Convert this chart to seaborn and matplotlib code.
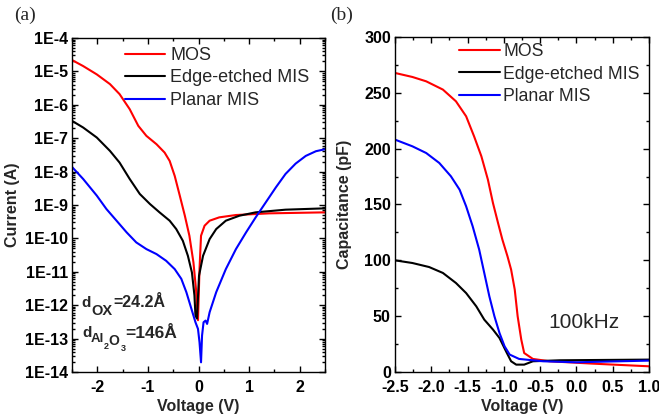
import numpy as np
import pandas as pd
import matplotlib
matplotlib.use("Agg")
import matplotlib.pyplot as plt
import matplotlib.ticker as mticker
import seaborn as sns

# ---------------- data (a) I-V, log10 of current (A) ----------------
mos_iv_v = [-2.5, -2.28, -2.01, -1.75, -1.56, -1.36, -1.19, -1.03, -0.83, -0.67, -0.57, -0.47,
            -0.37, -0.27, -0.18, -0.10, -0.05, -0.01, 0.02, 0.05, 0.12, 0.22, 0.41, 0.74, 1.4, 2.5]
mos_iv_log = [-4.66, -4.84, -5.09, -5.38, -5.68, -6.13, -6.63, -6.93, -7.18, -7.43, -7.68, -8.13,
              -8.72, -9.32, -9.92, -10.72, -11.51, -12.45, -10.92, -9.92, -9.62, -9.47, -9.37,
              -9.30, -9.25, -9.22]

edge_iv_v = [-2.5, -2.28, -2.01, -1.75, -1.56, -1.36, -1.16, -0.96, -0.77, -0.57, -0.44, -0.31,
             -0.21, -0.13, -0.08, -0.06, -0.03, 0.01, 0.09, 0.22, 0.35, 0.54, 0.81, 1.13, 1.72, 2.5]
edge_iv_log = [-6.48, -6.68, -6.98, -7.38, -7.73, -8.22, -8.67, -8.97, -9.22, -9.47, -9.72, -10.07,
               -10.52, -11.02, -11.71, -12.31, -12.4, -11.12, -10.52, -10.02, -9.72, -9.47, -9.32,
               -9.22, -9.14, -9.10]

planar_iv_v = [-2.5, -2.28, -2.01, -1.82, -1.62, -1.42, -1.23, -1.03, -0.83, -0.64, -0.47, -0.34,
               -0.24, -0.16, -0.10, -0.06, -0.01, 0.02, 0.05, 0.07, 0.10, 0.14, 0.17, 0.22, 0.35,
               0.54, 0.74, 0.94, 1.13, 1.33, 1.53, 1.72, 1.92, 2.12, 2.32, 2.5]
planar_iv_log = [-7.86, -8.22, -8.72, -9.12, -9.47, -9.82, -10.12, -10.32, -10.47, -10.67, -10.92,
                 -11.21, -11.61, -12.01, -12.31, -12.51, -12.71, -13.11, -13.71, -12.91, -12.51,
                 -12.46, -12.56, -12.21, -11.61, -10.92, -10.32, -9.82, -9.37, -8.92, -8.47,
                 -8.07, -7.76, -7.53, -7.39, -7.33]

# ---------------- data (b) C-V (pF) ----------------
mos_cv_v = [-2.5, -2.26, -2.07, -1.84, -1.66, -1.52, -1.41, -1.31, -1.22, -1.15, -1.08, -1.02,
            -0.95, -0.90, -0.85, -0.81, -0.76, -0.72, -0.60, -0.37, 0.22, 1.0]
mos_cv_c = [267.8, 264.2, 260.3, 252.9, 242.4, 229, 211, 193.2, 172.3, 151.3, 133.4, 118.5,
            103.6, 91.7, 73.8, 49.9, 29, 17, 11.7, 9.6, 7.5, 5.1]

edge_cv_v = [-2.5, -2.26, -2.03, -1.84, -1.66, -1.52, -1.38, -1.27, -1.15, -1.06, -0.97, -0.90,
             -0.83, -0.72, -0.60, -0.23, 1.0]
edge_cv_c = [100, 97.6, 94, 88.7, 79.7, 70.7, 58.8, 46.9, 38, 30.4, 18.5, 9.6, 6.6, 6.6, 9.6,
             10.5, 11.1]

planar_cv_v = [-2.5, -2.26, -2.07, -1.89, -1.73, -1.61, -1.52, -1.43, -1.34, -1.27, -1.20, -1.13,
               -1.06, -0.99, -0.92, -0.79, -0.46, 0.0, 1.0]
planar_cv_c = [208.1, 202.1, 196.1, 187.2, 175.3, 163.3, 148.4, 130.5, 109.6, 88.7, 67.8, 49.9,
               34.9, 23, 15.6, 11.7, 9.6, 8.7, 10.2]

series_names = ["MOS", "Edge-etched MIS", "Planar MIS"]
series_colors = {"MOS": "#ff0000", "Edge-etched MIS": "#000000", "Planar MIS": "#0000ff"}

# ---------------- build tables ----------------
iv_df = pd.concat([
    pd.DataFrame({"V": mos_iv_v, "I": np.power(10.0, mos_iv_log), "dev": "MOS"}),
    pd.DataFrame({"V": edge_iv_v, "I": np.power(10.0, edge_iv_log), "dev": "Edge-etched MIS"}),
    pd.DataFrame({"V": planar_iv_v, "I": np.power(10.0, planar_iv_log), "dev": "Planar MIS"}),
], ignore_index=True)
cv_df = pd.concat([
    pd.DataFrame({"V": mos_cv_v, "C": mos_cv_c, "dev": "MOS"}),
    pd.DataFrame({"V": edge_cv_v, "C": edge_cv_c, "dev": "Edge-etched MIS"}),
    pd.DataFrame({"V": planar_cv_v, "C": planar_cv_c, "dev": "Planar MIS"}),
], ignore_index=True)

sns.set_theme(style="ticks")
plt.rcParams["font.family"] = ["Liberation Sans", "DejaVu Sans"]
plt.rcParams["axes.unicode_minus"] = False
plt.rcParams["lines.solid_joinstyle"] = "round"
plt.rcParams["lines.solid_capstyle"] = "round"

W, H = 659, 420
fig = plt.figure(figsize=(W / 100, H / 100), dpi=100)
axL = fig.add_axes([72 / W, 1 - 372 / H, (325 - 72) / W, (372 - 38) / H])
axR = fig.add_axes([395 / W, 1 - 372 / H, (649 - 395) / W, (372 - 37) / H])

sns.lineplot(data=iv_df, x="V", y="I", hue="dev", hue_order=series_names, palette=series_colors,
             estimator=None, sort=False, linewidth=1.5, ax=axL, legend=False)
sns.lineplot(data=cv_df, x="V", y="C", hue="dev", hue_order=series_names, palette=series_colors,
             estimator=None, sort=False, linewidth=1.5, ax=axR, legend=False)

# ---- left axes formatting ----
axL.set_yscale("log")
axL.set_xlim(-2.5, 2.5)
axL.set_ylim(1e-14, 1e-4)
axL.yaxis.set_major_locator(mticker.LogLocator(base=10, numticks=20))
axL.yaxis.set_minor_locator(mticker.LogLocator(base=10, subs=np.arange(2, 10), numticks=20))
axL.yaxis.set_minor_formatter(mticker.NullFormatter())
axL.yaxis.set_major_formatter(mticker.FuncFormatter(lambda v, p: "1E%d" % int(round(np.log10(v)))))
axL.xaxis.set_major_locator(mticker.MultipleLocator(1))
axL.xaxis.set_minor_locator(mticker.MultipleLocator(0.5))
axL.xaxis.set_major_formatter(mticker.FuncFormatter(lambda v, p: "%d" % int(round(v))))

# ---- right axes formatting ----
axR.set_xlim(-2.5, 1.0)
axR.set_ylim(0, 300)
axR.xaxis.set_major_locator(mticker.MultipleLocator(0.5))
axR.xaxis.set_minor_locator(mticker.MultipleLocator(0.25))
axR.xaxis.set_major_formatter(mticker.FormatStrFormatter("%.1f"))
axR.yaxis.set_major_locator(mticker.MultipleLocator(50))
axR.yaxis.set_minor_locator(mticker.MultipleLocator(25))

for ax in (axL, axR):
    for s in ax.spines.values():
        s.set_visible(True)
        s.set_linewidth(1.0)
        s.set_color("black")
    ax.tick_params(which="both", direction="in", top=True, right=True, colors="black",
                   width=1.0)
    ax.tick_params(which="major", length=4, labelsize=11.5)
    ax.tick_params(which="minor", length=2)
    ax.tick_params(axis="x", which="major", pad=6)
    ax.tick_params(axis="y", which="major", pad=3)
    for lab in ax.get_xticklabels() + ax.get_yticklabels():
        lab.set_fontweight("bold")
    ax.set_xlabel("Voltage (V)", fontsize=11.5, fontweight="bold")
    ax.xaxis.set_label_coords(0.5, -0.081)
    ax.xaxis.label.set_verticalalignment("top")

axL.set_ylabel("Current (A)", fontsize=11.5, fontweight="bold")
axL.yaxis.set_label_coords(-0.204, 0.5)
axR.set_ylabel("Capacitance (pF)", fontsize=11.5, fontweight="bold")
axR.yaxis.set_label_coords(-0.170, 0.5)

# ---- legends ----
handles = [plt.Line2D([], [], color=series_colors[n], lw=1.5) for n in series_names]
fig.legend(handles, series_names, loc="upper left", bbox_to_anchor=(125 / W, 1 - 47 / H),
           frameon=False, fontsize=13, handlelength=2.2, handletextpad=0.3,
           labelspacing=0.3, borderpad=0, borderaxespad=0)
fig.legend(handles, series_names, loc="upper left", bbox_to_anchor=(459 / W, 1 - 43 / H),
           frameon=False, fontsize=12.7, handlelength=2.3, handletextpad=0.2,
           labelspacing=0.32, borderpad=0, borderaxespad=0)

# ---- thickness annotations, built from pieces (text, left px, baseline px, size) ----
pieces = [
    ("d", 81.7, 307, 11), ("OX", 91.5, 315, 10.5), ("=24.2Å", 113.0, 307, 11.5),
    ("d", 82.0, 337, 11), ("Al", 90.7, 342, 9.5), ("2", 104.2, 349, 6.5),
    ("O", 108.5, 345, 10), ("3", 120.5, 351, 6.5), ("=146Å", 125.0, 338, 12.5),
]
for txt, px, py, fs in pieces:
    fig.text(px / W, 1 - py / H, txt, fontsize=fs, fontweight="bold", ha="left", va="baseline")

fig.text(548 / W, 1 - 322 / H, "100kHz", fontsize=15, va="center", ha="left")

fig.text(25 / W, 1 - 15 / H, "(a)", fontsize=14, family="Liberation Serif", va="center",
         ha="center")
fig.text(341.5 / W, 1 - 15 / H, "(b)", fontsize=14, family="Liberation Serif", va="center",
         ha="center")

fig.savefig("out.png", dpi=100)
